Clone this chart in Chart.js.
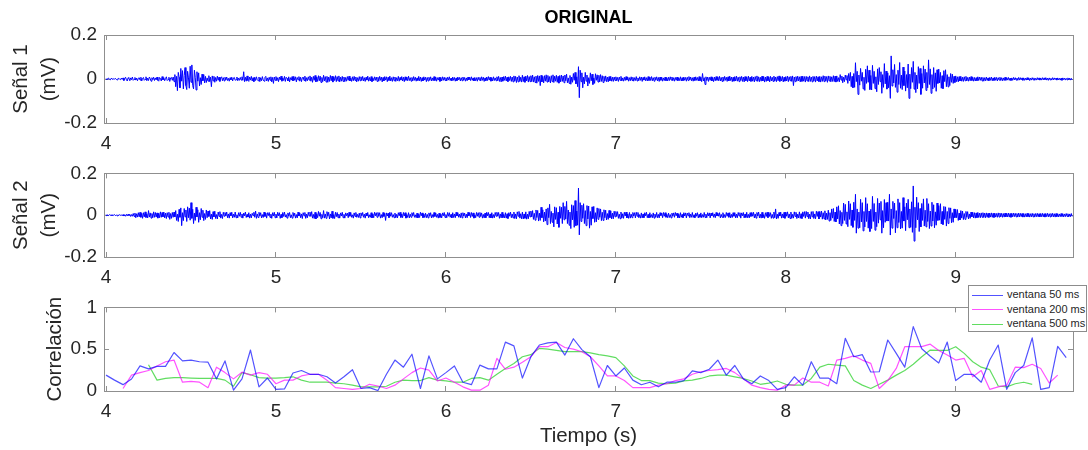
<!DOCTYPE html>
<html>
<head>
<meta charset="utf-8">
<script src="https://cdn.jsdelivr.net/npm/chart.js@4.4.1/dist/chart.umd.min.js"></script>
<style>
  body { margin: 0; background: #fff; }
  #wrap { position: relative; width: 1088px; height: 450px; overflow: hidden; }
  #wrap canvas { position: absolute; left: 0; }
  #legend-div {
    position: absolute; left: 968px; top: 285px; width: 117px; height: 45px;
    border: 1px solid #8c8c8c; background: #fff;
    font: 11px "Liberation Sans", Arial, sans-serif; color: #262626;
  }
  #legend-div ul { list-style: none; margin: 0; padding: 1px 0 0 3px; }
  #legend-div li { height: 14.5px; line-height: 14.5px; white-space: nowrap; }
  #legend-div span { display: inline-block; width: 31px; height: 1px; vertical-align: middle; margin-right: 4px; }
</style>
</head>
<body>
<div id="wrap">
  <canvas id="sig1Canvas" width="1088" height="150" style="top:0px"></canvas>
  <canvas id="sig2Canvas" width="1088" height="134" style="top:150px"></canvas>
  <canvas id="corrCanvas" width="1088" height="166" style="top:284px"></canvas>
  <div id="legend-div"></div>
</div>
<script>
// ticks
const xTicks = [4, 5, 6, 7, 8, 9];
const sigTicks = [-0.2, 0, 0.2];
const corrTicks = [0, 0.5, 1];

// señales: una muestra cada 5 ms desde 4 s, valores en µV (20 por fila = 0.1 s)
const sigStart = 4.0;
const sigStep = 0.005;
const senal1 = [
  1,-3,2,4,-2,-4,3,1,-3,2,-1,3,-2,-4,2,3,-1,-3,4,-2,
  5,-7,2,8,-4,-9,6,3,-8,5,-3,9,-6,-2,7,-5,4,-8,3,6,
  -5,8,-9,3,7,-6,-2,10,-8,4,-7,9,2,-10,6,-3,8,-7,5,-4,
  9,-6,-10,7,3,-9,11,-4,6,-8,2,10,-7,-3,8,-11,5,7,-6,9,
  -12,20,-35,12,-53,30,8,-40,48,-10,38,-45,15,52,-30,-48,35,5,-42,58,
  -15,64,-30,-45,40,8,-50,33,-10,28,-32,6,-25,22,-8,20,-18,12,-16,5,
  -10,15,-12,8,-35,14,-9,12,-15,7,-10,13,-6,9,-11,5,10,-8,6,-9,
  8,-5,9,-7,3,-10,6,-4,8,-9,5,7,-6,-3,9,-8,4,-6,7,-5,
  10,-6,33,-12,8,-10,14,-7,-11,9,-5,12,-9,6,-12,8,-7,10,-4,-8,
  9,-12,6,-8,11,-5,-10,7,12,-9,5,-11,8,-6,10,-13,7,-20,9,-6,
  11,-8,6,-12,9,-4,13,-10,5,-7,12,-11,8,3,-9,10,-13,6,-5,11,
  -9,12,-6,10,-13,7,-4,11,-10,8,-12,5,9,-7,13,-11,6,-8,10,-5,
  14,-10,8,-15,12,-6,16,-13,9,-11,15,-8,13,-16,7,-12,17,-9,11,-14,
  12,-15,9,-11,16,-8,13,-14,10,-7,15,-12,11,-9,14,-13,8,-10,12,-11,
  9,-12,7,-10,11,-6,13,-9,5,-11,10,-8,12,-7,9,-13,6,-10,11,-8,
  10,-7,12,-9,6,-11,8,-5,13,-10,7,-9,11,-12,5,-8,10,-6,9,-11,
  8,-10,12,-6,9,-13,7,-9,11,-5,10,-12,8,-7,13,-9,6,-11,10,-8,
  9,-11,6,-8,12,-10,7,-5,11,-9,8,-12,10,-6,9,-8,13,-7,6,-10,
  7,-9,11,-6,8,-10,5,-7,12,-8,9,-11,6,-9,10,-5,8,-12,7,-9,
  8,-6,10,-9,5,-8,11,-7,9,-10,6,-5,8,-11,7,-9,10,-6,8,-7,
  6,-9,8,-5,10,-7,4,-8,9,-6,7,-10,5,-8,9,-4,7,-9,6,-8,
  9,-6,7,-10,5,-8,9,-4,8,-7,10,-6,5,-9,7,-8,6,-10,8,-5,
  7,-9,10,-6,8,-11,5,-8,9,-7,11,-5,8,-10,6,-9,10,-7,5,-8,
  10,-8,12,-11,7,-13,9,-10,11,-6,13,-9,8,-12,10,-7,12,-11,9,-13,
  14,-10,12,-16,9,-13,15,-11,8,-14,17,-12,10,-15,13,-9,16,-14,11,-12,
  15,-12,18,-14,10,-16,13,-19,16,-11,14,-30,17,-13,12,-18,15,-10,19,-14,
  16,-13,11,-18,15,-12,19,-16,13,-10,17,-15,12,-19,16,-13,18,-11,14,-17,
  18,-8,22,-17,5,-20,16,-24,9,-15,25,-6,30,-22,10,-35,56,-85,40,-12,
  28,-40,8,-22,30,-10,18,-32,6,-20,28,-8,22,-25,5,-20,24,-6,19,-14,
  17,-13,20,-11,15,-16,12,-10,14,-12,9,-13,11,-8,12,-10,8,-11,9,-7,
  10,-8,7,-11,9,-6,12,-9,5,-10,8,-7,11,-5,9,-10,6,-8,10,-7,
  8,-10,6,-7,11,-9,5,-8,10,-6,9,-11,7,-5,10,-8,6,-9,11,-7,
  9,-7,11,-8,6,-10,8,-5,10,-9,7,-11,9,-6,8,-10,5,-7,9,-8,
  6,-9,8,-7,10,-5,9,-8,6,-10,7,-6,9,-8,5,-7,10,-9,6,-8,
  9,-6,7,-10,8,-7,11,-5,9,-8,6,-10,8,-7,10,-6,7,-9,11,-8,
  8,-12,25,-9,6,-25,10,-7,9,-11,8,-6,10,-9,7,-12,9,-8,11,-6,
  10,-8,12,-9,7,-11,9,-10,12,-6,8,-11,10,-9,13,-7,9,-12,8,-10,
  11,-9,13,-10,8,-12,10,-7,12,-11,9,-13,11,-8,10,-12,13,-9,8,-11,
  12,-10,9,-13,11,-8,14,-11,10,-12,8,-10,13,-9,11,-14,9,-11,12,-8,
  10,-13,12,-9,8,-11,13,-10,9,-12,11,-8,14,-11,10,-9,12,-13,8,-10,
  11,-9,13,-12,10,-8,12,-11,14,-30,9,-12,11,-10,13,-9,10,-13,12,-11,
  13,-10,11,-14,12,-9,10,-12,14,-11,9,-13,12,-10,11,-14,13,-9,10,-12,
  12,-14,10,-11,15,-12,13,-10,11,-15,14,-9,12,-13,10,-11,15,-12,13,-14,
  14,-11,6,-13,20,-5,13,-17,8,-12,18,-4,16,-20,25,-8,30,-35,12,-40,
  25,-38,74,-12,35,-70,18,-28,48,-10,30,-45,8,-52,44,-20,60,-15,40,-48,
  16,-50,62,-20,35,-44,10,-58,46,-25,52,-12,33,-65,20,-38,70,-22,36,-46,
  28,-40,15,-88,105,-32,42,-18,66,-38,20,-60,40,-25,75,-42,18,-48,54,-30,
  36,-55,20,-40,68,-88,22,-44,52,-15,80,-46,30,-62,18,-45,56,-20,48,-70,
  25,-42,60,-18,45,-52,30,-40,87,-25,46,-65,20,-45,52,-38,28,-56,42,-20,
  45,-18,30,-42,15,-44,38,-12,42,-35,20,-36,10,-30,25,-15,22,-20,12,-16,
  14,-12,10,-13,11,-9,12,-10,8,-11,10,-8,12,-9,7,-10,9,-8,11,-7,
  8,-10,7,-9,6,-8,10,-7,9,-6,8,-9,7,-10,6,-8,9,-7,5,-8,
  7,-6,9,-8,5,-7,8,-6,7,-9,6,-5,8,-7,6,-8,5,-7,8,-6,
  6,-5,7,-6,4,-7,5,-6,7,-4,6,-5,4,-6,7,-5,6,-4,5,-6,
  5,-6,4,-5,6,-4,5,-7,4,-5,6,-4,5,-6,3,-5,6,-4,5,-5,
  4,-5,6,-4,5,-3,6,-5,4,-6,5,-4,3,-5,6,-4,5,-3,4,-5,
  5,-4,3,-5,4,-6,5,-3,4,-5,3,-4,5,-3,4,-5,3,-4
];
const senal2 = [
  2,-3,1,-2,3,-1,2,-3,2,-1,3,-2,1,-3,2,-2,3,-1,2,-3,
  3,-4,2,-5,4,-3,5,-2,4,-6,3,-5,8,-6,10,-12,7,-9,12,-8,
  14,-10,9,-15,12,-8,16,-11,7,-13,22,-9,11,-14,8,-12,16,-10,13,-9,
  11,-14,9,-12,16,-10,13,-8,15,-13,10,-16,12,-9,14,-20,8,-15,13,-10,
  15,-8,22,-25,5,-30,28,-10,35,-50,12,-26,32,-8,25,-30,40,-12,34,-24,
  60,-15,28,-40,10,-25,38,-8,26,-34,12,-22,32,-10,24,-26,8,-20,25,-12,
  20,-6,22,-18,5,-20,17,-8,19,-16,3,-18,15,-6,17,-14,4,-16,14,-5,
  13,-4,15,-12,6,-14,12,-3,14,-13,5,-10,15,-12,2,-13,12,-5,14,-10,
  6,-14,10,-3,15,-11,4,-9,12,-14,5,-13,9,-2,14,-10,20,-15,6,-11,
  14,-4,12,-13,3,-11,15,-6,10,-14,12,-2,13,-11,5,-15,12,-4,14,-12,
  5,-13,14,-3,12,-15,4,-12,13,-6,15,-9,3,-14,11,-5,13,-12,2,-14,
  13,-5,10,-14,3,-13,15,-4,11,-12,6,-16,12,-3,13,-15,5,-12,14,-4,
  15,-6,17,-14,4,-16,14,-18,7,-12,18,-5,13,-17,4,-12,22,-14,6,-15,
  17,-5,14,-18,6,-13,19,-15,3,-16,14,-7,13,-12,5,-14,11,-4,14,-12,
  4,-14,11,-3,10,-12,14,-5,13,-10,2,-14,11,-6,13,-10,4,-11,10,-13,
  11,-3,13,-10,5,-14,10,-4,13,-12,2,-10,12,-13,6,-12,14,-3,12,-10,
  13,-5,12,-14,3,-12,13,-6,9,-25,11,-4,10,-12,14,-5,12,-10,3,-12,
  10,-12,4,-13,12,-3,14,-11,6,-12,13,-4,12,-14,3,-11,12,-13,5,-10,
  12,-4,13,-10,2,-12,10,-13,5,-11,14,-3,11,-12,6,-11,10,-12,4,-13,
  11,-5,12,-13,3,-11,13,-6,11,-10,4,-14,10,-11,5,-13,11,-3,13,-11,
  3,-12,13,-5,12,-10,4,-13,12,-11,6,-12,14,-4,12,-10,5,-12,11,-13,
  12,-4,10,-13,5,-12,14,-3,12,-11,13,-6,11,-14,2,-12,13,-5,12,-10,
  13,-6,11,-14,4,-13,10,-12,14,-3,13,-12,6,-13,12,-14,3,-12,13,-5,
  14,-5,13,-15,6,-13,14,-12,4,-13,12,-14,7,-16,12,-5,15,-12,6,-13,
  15,-16,6,-17,16,-5,18,-14,7,-17,15,-18,6,-15,16,-19,5,-17,18,-8,
  20,-8,22,-20,9,-24,25,-11,23,-28,10,-25,38,-12,26,-32,15,-28,30,-45,
  35,-12,52,-40,18,-34,10,-56,40,-20,36,-42,14,-58,42,-15,38,-40,60,-22,
  42,-18,66,-40,25,-48,15,-64,50,-22,46,-58,70,-50,20,-48,130,-94,60,-30,
  48,-15,55,-40,22,-50,46,-18,44,-62,18,-48,40,-16,42,-34,12,-32,35,-20,
  32,-10,30,-26,14,-25,26,-12,24,-23,8,-20,23,-12,21,-18,10,-17,19,-8,
  18,-6,17,-15,5,-17,15,-14,7,-15,14,-4,15,-13,6,-15,13,-14,5,-12,
  13,-4,12,-13,14,-5,13,-12,3,-14,11,-13,6,-12,12,-3,14,-12,4,-13,
  12,-11,3,-12,11,-14,5,-10,13,-12,4,-13,12,-2,10,-12,13,-5,12,-10,
  4,-12,10,-11,3,-13,10,-5,11,-10,13,-3,10,-12,5,-13,12,-10,4,-12,
  12,-4,11,-13,10,-3,12,-12,5,-10,13,-11,2,-12,10,-5,12,-13,4,-10,
  11,-12,3,-10,13,-11,5,-12,12,-4,11,-13,10,-3,12,-10,6,-12,13,-4,
  10,-5,12,-13,4,-10,12,-12,3,-11,13,-5,11,-10,12,-13,4,-11,12,-5,
  12,-13,5,-12,13,-4,12,-14,11,-3,13,-13,6,-11,14,-12,4,-13,12,-6,
  13,-5,14,-13,6,-14,13,-4,15,-13,5,-14,14,-12,3,-15,12,-6,14,-12,
  14,-6,12,-15,4,-14,15,-12,30,-18,5,-15,13,-4,15,-14,6,-13,14,-15,
  15,-5,16,-13,6,-16,15,-15,4,-14,16,-6,14,-16,5,-13,16,-15,7,-16,
  16,-6,17,-14,18,-7,15,-17,5,-18,17,-8,18,-16,6,-17,19,-6,17,-18,
  18,-9,20,-19,12,-18,21,-23,10,-20,24,-28,12,-25,30,-14,32,-30,15,-32,
  40,-18,45,-42,22,-50,14,-40,58,-25,52,-42,16,-55,68,-20,55,-50,25,-58,
  62,-25,100,-86,30,-62,15,-60,76,-32,60,-75,18,-56,84,-30,55,-62,20,-78,
  28,-64,90,-30,56,-72,15,-55,80,-38,58,-22,66,-86,22,-60,75,-34,60,-28,
  62,-28,100,-95,30,-62,66,-16,58,-84,22,-60,78,-35,60,-66,18,-62,84,-28,
  40,-74,58,-22,76,-60,30,-58,64,-82,140,-124,38,-60,86,-22,60,-78,32,-56,
  56,-25,78,-52,24,-56,80,-30,55,-64,20,-52,62,-28,50,-60,16,-48,58,-25,
  46,-24,55,-42,18,-45,42,-20,40,-52,18,-40,36,-15,35,-36,12,-34,30,-12,
  28,-12,27,-25,10,-23,22,-14,20,-21,8,-20,18,-10,17,-18,6,-15,15,-8,
  14,-13,12,-14,11,-12,13,-11,10,-12,11,-10,12,-11,10,-12,11,-10,9,-11,
  10,-9,11,-10,9,-11,10,-9,8,-10,11,-9,10,-8,9,-10,8,-9,10,-8,
  9,-8,10,-9,8,-10,9,-8,10,-7,9,-8,8,-9,10,-8,9,-7,8,-9,
  8,-9,7,-8,9,-7,8,-9,7,-8,9,-8,7,-9,8,-7,9,-8,7,-8,
  8,-7,9,-8,7,-9,8,-7,9,-8,7,-8,8,-7,9,-8,7,-9,8,-7,
  7,-8,6,-7,8,-6,7,-8,6,-7,8,-6,7,-8,6,-7,8,-6
];

// correlación por ventanas, un valor cada 50 ms
const corrStep = 0.05;
const corr50Start = 4.00;
const corr50 = [
  0.19,0.13,0.076,0.144,0.30,0.265,0.295,0.295,0.46,0.36,
  0.37,0.35,0.345,0.145,0.36,0.01,0.145,0.49,0.05,0.155,
  0.02,0.025,0.215,0.245,0.20,0.20,0.17,0.095,0.17,0.255,
  0.03,0.04,0.005,0.20,0.37,0.285,0.44,0.03,0.42,0.145,
  0.22,0.30,0.105,0.076,0.31,0.265,0.265,0.585,0.54,0.155,
  0.41,0.55,0.575,0.585,0.43,0.625,0.495,0.41,0.04,0.305,
  0.18,0.275,0.13,0.075,0.105,0.05,0.105,0.105,0.125,0.24,
  0.22,0.26,0.37,0.19,0.305,0.145,0.087,0.18,0.125,0.02,
  0.04,0.17,0.07,0.35,0.155,0.155,0.087,0.63,0.41,0.435,
  0.227,0.23,0.61,0.45,0.285,0.77,0.505,0.415,0.335,0.585,
  0.125,0.2,0.2,0.105,0.37,0.55,0.02,0.22,0.305,0.635,
  0.02,0.04,0.535,0.40
];
const corr200Start = 4.10;
const corr200 = [
  0.03,0.19,0.22,0.245,0.30,0.35,0.37,0.105,0.115,0.105,
  0.04,0.285,0.22,0.145,0.225,0.19,0.22,0.20,0.087,0.13,
  0.13,0.18,0.20,0.20,0.13,0.04,0.03,0.02,0.03,0.08,
  0.06,0.03,0.07,0.145,0.22,0.275,0.25,0.12,0.155,0.105,
  0.05,0.01,0.01,0.07,0.39,0.26,0.285,0.345,0.41,0.53,
  0.53,0.58,0.52,0.50,0.47,0.41,0.30,0.18,0.18,0.125,
  0.04,0.04,0.04,0.07,0.087,0.125,0.145,0.20,0.23,0.245,
  0.255,0.27,0.22,0.145,0.07,0.04,0.02,0.01,0.07,0.07,
  0.155,0.105,0.105,0.06,0.37,0.39,0.42,0.37,0.33,0.03,
  0.125,0.27,0.53,0.53,0.53,0.56,0.485,0.43,0.37,0.39,
  0.17,0.245,0.02,0.05,0.07,0.285,0.28,0.32,0.27,0.095,
  0.19
];
const corr500Start = 4.25;
const corr500 = [
  0.315,0.13,0.15,0.16,0.16,0.155,0.15,0.15,0.15,0.13,
  0.057,0.22,0.195,0.16,0.155,0.155,0.16,0.17,0.13,0.105,
  0.105,0.105,0.095,0.087,0.07,0.05,0.05,0.05,0.057,0.105,
  0.13,0.125,0.125,0.16,0.13,0.12,0.105,0.105,0.15,0.16,
  0.13,0.20,0.27,0.33,0.41,0.435,0.51,0.50,0.485,0.47,
  0.47,0.47,0.455,0.435,0.42,0.40,0.30,0.18,0.125,0.125,
  0.095,0.087,0.095,0.12,0.13,0.15,0.18,0.19,0.19,0.17,
  0.15,0.12,0.08,0.095,0.12,0.08,0.07,0.07,0.15,0.285,
  0.32,0.31,0.30,0.125,0.07,0.03,0.08,0.13,0.19,0.245,
  0.32,0.41,0.49,0.485,0.485,0.53,0.45,0.35,0.285,0.255,
  0.06,0.05,0.087,0.105,0.08
];
const corrLabels = ['ventana 50 ms', 'ventana 200 ms', 'ventana 500 ms'];
const corrColors = ['rgba(0, 0, 255, 0.68)', 'rgba(255, 0, 255, 0.68)', 'rgba(0, 200, 0, 0.62)'];

const X_MIN = 3.988;
const X_MAX = 9.69;
const FONT = '"Liberation Sans", Arial, Helvetica, sans-serif';
const TEXT = '#262626';
const AXIS = '#8f8f8f';

let toPoints = function (values, start, step, factor) {
  return values.map(function (v, i) {
    return { x: +(start + i * step).toFixed(3), y: v * factor };
  });
};

let tickSetter = function (list) {
  return function (scale) {
    scale.ticks = list.map(function (v) { return { value: v }; });
  };
};

// caja estilo MATLAB: eje inferior + superior, izquierdo + derecho, marcas hacia dentro
let buildScales = function (cfg) {
  let grid = { drawOnChartArea: false, drawTicks: true, tickLength: -5, color: AXIS, lineWidth: 1 };
  let border = { color: AXIS, width: 1 };
  return {
    x: {
      type: 'linear', position: 'bottom', min: X_MIN, max: X_MAX,
      afterBuildTicks: tickSetter(xTicks),
      afterFit: function (s) { s.height = cfg.xHeight; },
      ticks: { font: { family: FONT, size: 19 }, color: TEXT, padding: 14, maxRotation: 0,
               callback: function (v) { return String(v); } },
      grid: grid, border: border,
      title: cfg.xTitle ? { display: true, text: cfg.xTitle, color: TEXT,
               font: { family: FONT, size: 20.5 }, padding: { top: 0, bottom: 1 } } : { display: false }
    },
    xTop: {
      type: 'linear', position: 'top', min: X_MIN, max: X_MAX,
      afterBuildTicks: tickSetter(xTicks),
      afterFit: function (s) { s.height = 0; },
      ticks: { display: false }, grid: grid, border: border
    },
    y: {
      type: 'linear', position: 'left', min: cfg.yMin, max: cfg.yMax,
      afterBuildTicks: tickSetter(cfg.yTicks),
      afterFit: function (s) { s.width = 104; },
      ticks: { font: { family: FONT, size: 19 }, color: TEXT, padding: 12,
               callback: function (v) { return String(v); } },
      grid: grid, border: border,
      title: { display: true, text: cfg.yTitle, color: TEXT,
               font: { family: FONT, size: 20.5, lineHeight: 1.35 }, padding: { top: cfg.yTitlePad, bottom: 0 } }
    },
    yRight: {
      type: 'linear', position: 'right', min: cfg.yMin, max: cfg.yMax,
      afterBuildTicks: tickSetter(cfg.yTicks),
      afterFit: function (s) { s.width = 0; },
      ticks: { display: false }, grid: grid, border: border
    }
  };
};

let buildOptions = function (cfg) {
  return {
    responsive: false,
    animation: false,
    devicePixelRatio: 1,
    layout: { padding: { top: cfg.padTop, right: 15, left: 0, bottom: 0 } },
    elements: { point: { radius: 0 }, line: { tension: 0, borderJoinStyle: 'round' } },
    plugins: {
      legend: { display: false },
      tooltip: { enabled: false },
      title: cfg.title ? {
        display: true, text: cfg.title, color: '#000', fullSize: false,
        font: { family: FONT, size: 18, weight: 'bold' }, padding: { top: 7, bottom: 6.4 }
      } : { display: false }
    },
    scales: buildScales(cfg)
  };
};

let signalChart = function (canvasId, values, cfg) {
  let ctx = document.getElementById(canvasId).getContext('2d');
  return new Chart(ctx, {
    type: 'line',
    data: {
      datasets: [{
        data: toPoints(values, sigStart, sigStep, 0.001),
        borderColor: '#0000ff',
        borderWidth: 1
      }]
    },
    options: buildOptions(cfg)
  });
};

window.sig1Chart = signalChart('sig1Canvas', senal1, {
  yMin: -0.2, yMax: 0.2, yTicks: sigTicks, yTitle: ['Señal 1', '(mV)'], yTitlePad: 7.6,
  xHeight: 27, padTop: 0, title: 'ORIGINAL'
});
window.sig2Chart = signalChart('sig2Canvas', senal2, {
  yMin: -0.2, yMax: 0.2, yTicks: sigTicks, yTitle: ['Señal 2', '(mV)'], yTitlePad: 7.6,
  xHeight: 27, padTop: 19
});

window.corrChart = new Chart(document.getElementById('corrCanvas').getContext('2d'), {
  type: 'line',
  data: {
    datasets: [
      { label: corrLabels[0], data: toPoints(corr50, corr50Start, corrStep, 1), borderColor: corrColors[0], borderWidth: 1.2 },
      { label: corrLabels[1], data: toPoints(corr200, corr200Start, corrStep, 1), borderColor: corrColors[1], borderWidth: 1.2 },
      { label: corrLabels[2], data: toPoints(corr500, corr500Start, corrStep, 1), borderColor: corrColors[2], borderWidth: 1.2 }
    ]
  },
  options: buildOptions({
    yMin: 0, yMax: 1, yTicks: corrTicks, yTitle: 'Correlación', yTitlePad: 42,
    xHeight: 59, padTop: 19, xTitle: 'Tiempo (s)'
  })
});

let customLegend = function (chart) {
  let ul = document.createElement('ul');
  chart.data.datasets.forEach(function (ds, index) {
    ul.innerHTML += `<li data-index="${index}"><span style="background-color: ${ds.borderColor}"></span>${ds.label}</li>`;
  });
  return ul.outerHTML;
};

document.getElementById('legend-div').innerHTML = customLegend(window.corrChart);
</script>
</body>
</html>
